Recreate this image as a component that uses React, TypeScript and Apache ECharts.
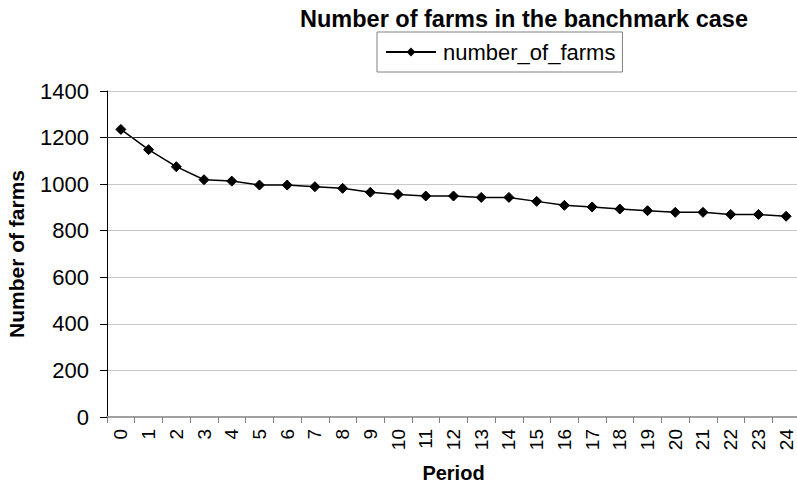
import React, { useEffect, useRef } from "react";
import * as echarts from "echarts";

const periods: string[] = [
  "0", "1", "2", "3", "4", "5", "6", "7", "8", "9", "10", "11", "12",
  "13", "14", "15", "16", "17", "18", "19", "20", "21", "22", "23", "24",
];

const numberOfFarms: number[] = [
  1235, 1148, 1075, 1019, 1013, 996, 996, 989, 982, 965, 956, 949, 949,
  943, 943, 926, 909, 902, 893, 886, 879, 879, 870, 870, 862,
];

const yTicks: number[] = [0, 200, 400, 600, 800, 1000, 1200, 1400];

const FONT = "'Liberation Sans', Arial, Helvetica, sans-serif";

export default function App() {
  const ref = useRef<HTMLDivElement>(null);

  useEffect(() => {
    if (!ref.current) return;
    const chart = echarts.init(ref.current, undefined, { renderer: "svg" });
    chart.setOption({
      animation: false,
      backgroundColor: "#ffffff",
      title: {
        text: "Number of farms in the banchmark case",
        left: 295,
        top: 2,
        textStyle: {
          fontFamily: FONT,
          fontSize: 23.5,
          fontWeight: "bold",
          color: "#000000",
        },
      },
      legend: {
        left: 377,
        top: 32,
        padding: [9, 7, 9, 8],
        itemGap: 0,
        itemWidth: 50,
        itemHeight: 11,
        borderColor: "#808080",
        borderWidth: 1,
        borderRadius: 0,
        textStyle: {
          fontFamily: FONT,
          fontSize: 22,
          color: "#000000",
          padding: [0, 0, 0, 2],
        },
        data: ["number_of_farms"],
      },
      grid: {
        left: 107,
        right: -3,
        top: 91,
        bottom: 68,
        containLabel: false,
        outerBoundsMode: "none",
      },
      xAxis: {
        type: "category",
        data: periods,
        boundaryGap: true,
        name: "Period",
        nameLocation: "middle",
        nameGap: 46,
        nameTextStyle: {
          fontFamily: FONT,
          fontSize: 20,
          fontWeight: "bold",
          color: "#000000",
          lineHeight: 20,
        },
        axisLine: { lineStyle: { color: "#a0a0a0", width: 2 } },
        axisTick: {
          show: true,
          alignWithLabel: false,
          length: 6,
          lineStyle: { color: "#808080" },
        },
        axisLabel: {
          rotate: 90,
          margin: 12,
          interval: 0,
          fontFamily: FONT,
          fontSize: 19,
          lineHeight: 17,
          color: "#000000",
        },
        splitLine: { show: false },
      },
      yAxis: {
        type: "value",
        min: 0,
        max: 1400,
        interval: 200,
        name: "Number of farms",
        nameLocation: "middle",
        nameGap: 80,
        nameTextStyle: {
          fontFamily: FONT,
          fontSize: 21,
          fontWeight: "bold",
          color: "#000000",
        },
        axisLine: { show: true, lineStyle: { color: "#000000", width: 1 } },
        axisTick: {
          show: true,
          inside: false,
          length: 7,
          lineStyle: { color: "#000000" },
        },
        axisLabel: {
          margin: 18,
          fontFamily: FONT,
          fontSize: 22,
          color: "#000000",
          formatter: (v: number) => (yTicks.includes(v) ? String(v) : ""),
        },
        splitLine: { show: true, lineStyle: { color: "#c8c8c8", width: 1 } },
      },
      series: [
        {
          name: "number_of_farms",
          type: "line",
          data: numberOfFarms,
          symbol: "diamond",
          symbolSize: 10,
          showSymbol: true,
          lineStyle: { color: "#000000", width: 1.5 },
          itemStyle: { color: "#000000", borderColor: "#000000" },
          markLine: {
            silent: true,
            symbol: "none",
            label: { show: false },
            lineStyle: { color: "#303030", width: 1, type: "solid" },
            data: [{ yAxis: 1200 }],
          },
        },
      ],
    });
    return () => chart.dispose();
  }, []);

  return (
    <div
      ref={ref}
      style={{ position: "absolute", left: 0, top: 0, width: 797, height: 485 }}
    />
  );
}
